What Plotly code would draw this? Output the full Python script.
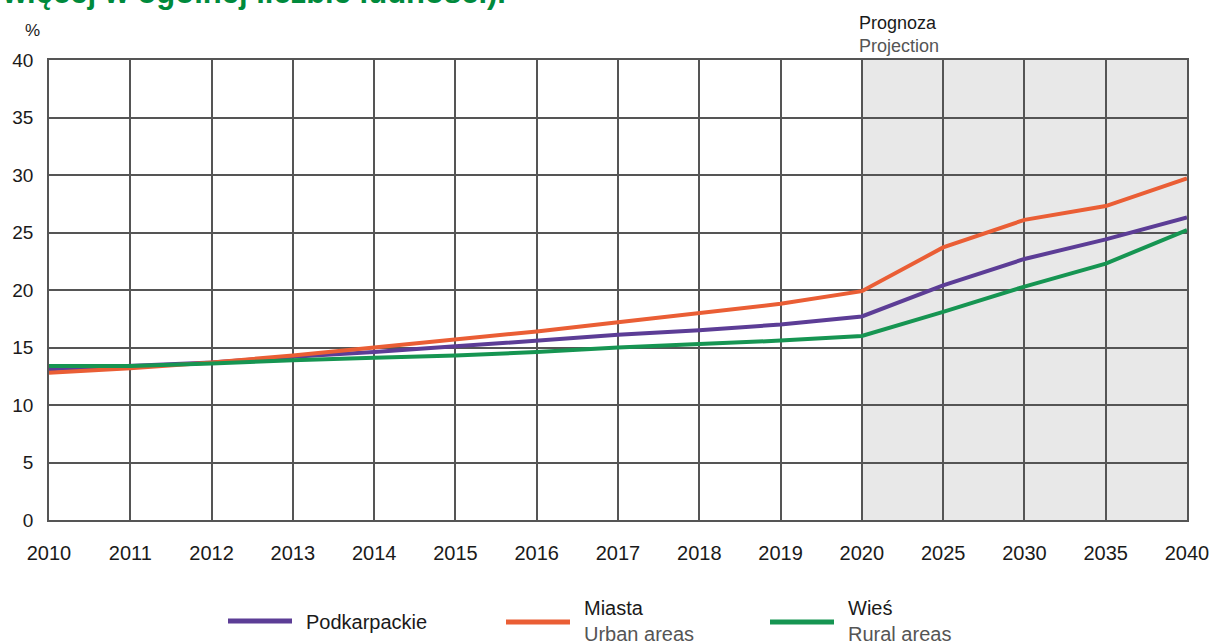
import plotly.graph_objects as go

years = ["2010", "2011", "2012", "2013", "2014", "2015", "2016", "2017",
         "2018", "2019", "2020", "2025", "2030", "2035", "2040"]
podkarpackie = [13.1, 13.4, 13.7, 14.2, 14.6, 15.1, 15.6, 16.1, 16.5, 17.0, 17.7, 20.4, 22.7, 24.4, 26.3]
miasta = [12.8, 13.2, 13.7, 14.3, 15.0, 15.7, 16.4, 17.2, 18.0, 18.8, 19.9, 23.7, 26.1, 27.3, 29.7]
wies = [13.4, 13.4, 13.6, 13.9, 14.1, 14.3, 14.6, 15.0, 15.3, 15.6, 16.0, 18.1, 20.3, 22.3, 25.2]
y_ticks = [0, 5, 10, 15, 20, 25, 30, 35, 40]

names = ["Podkarpackie", "Miasta", "Wieś"]
names_en = ["", "Urban areas", "Rural areas"]
colors = ["#5c3d96", "#ea5e35", "#169552"]
series = [podkarpackie, miasta, wies]

NARROW = "Liberation Sans Narrow, Arial Narrow, Liberation Sans, Arial"
REG = "Liberation Sans, Arial"

fig = go.Figure()

# projection shading
fig.add_shape(type="rect", xref="x", yref="y", x0=years.index("2020"), x1=len(years) - 1,
              y0=0, y1=40, fillcolor="#e8e8e8", line_width=0, layer="below")

for s, c, n in zip(series, colors, names):
    fig.add_trace(go.Scatter(x=list(range(len(years))), y=s, mode="lines", name=n,
                             line=dict(color=c, width=4), showlegend=False))

PW = 1138
fig.update_layout(
    width=1215, height=644,
    margin=dict(l=49, r=28, t=60, b=124),
    paper_bgcolor="white", plot_bgcolor="rgba(0,0,0,0)",
    showlegend=False,
)
fig.update_xaxes(
    range=[0, len(years) - 1], tickmode="array", tickvals=list(range(len(years))), ticktext=years,
    showgrid=True, gridcolor="#555555", gridwidth=1.5, zeroline=False, automargin=False,
    showline=True, linecolor="#555555", linewidth=1.5, mirror=True,
    ticks="outside", ticklen=14, tickcolor="rgba(0,0,0,0)",
    tickfont=dict(family=NARROW, size=20, color="#1a1a1a"), layer="above traces",
)
fig.update_yaxes(
    range=[0, 40], tickmode="array", tickvals=y_ticks,
    showgrid=True, gridcolor="#555555", gridwidth=1.5, zeroline=False, automargin=False,
    showline=True, linecolor="#555555", linewidth=1.5, mirror=True,
    ticks="outside", ticklen=10, tickcolor="rgba(0,0,0,0)",
    tickfont=dict(family=REG, size=19, color="#1a1a1a"),
)

# cropped green title (as in the reference, only its lower part is visible)
fig.add_annotation(xref="paper", yref="paper", x=-49 / PW, y=1.0, yshift=48, xanchor="left", yanchor="bottom",
                   text="<b>więcej w ogólnej liczbie ludności).</b>", showarrow=False,
                   font=dict(family=REG, size=31, color="#008a3c"))
fig.add_annotation(xref="paper", yref="paper", x=-26 / PW, y=1.0, yshift=18, xanchor="left", yanchor="bottom",
                   text="%", showarrow=False, font=dict(family=REG, size=17, color="#1a1a1a"))
fig.add_annotation(xref="x", yref="paper", x=years.index("2020"), y=1.0, yshift=2, xshift=-5,
                   xanchor="left", yanchor="bottom",
                   text="Prognoza<br><span style='color:#555555'>Projection</span>", showarrow=False, align="left",
                   font=dict(family=REG, size=18, color="#1a1a1a"))

# legend (drawn manually)
leg_x = [228, 506, 770]
for i, (n, ne, c) in enumerate(zip(names, names_en, colors)):
    yline = 621 if not ne else 622
    fig.add_shape(type="line", xref="paper", yref="paper",
                  x0=(leg_x[i] - 49) / PW, x1=(leg_x[i] + 64 - 49) / PW,
                  y0=(520 - yline) / 460, y1=(520 - yline) / 460,
                  line=dict(color=c, width=5))
    if ne:
        txt = n + "<br><span style='color:#555555'>" + ne + "</span>"
        ycen = 621
    else:
        txt = n
        ycen = 622
    fig.add_annotation(xref="paper", yref="paper", x=(leg_x[i] + 76 - 49) / PW, y=(520 - ycen) / 460,
                       xanchor="left", yanchor="middle", text=txt, showarrow=False, align="left",
                       font=dict(family=NARROW, size=20, color="#1a1a1a"))

fig.write_html("out.html", config={"displayModeBar": False},
               post_script="document.body.style.margin='0';")
